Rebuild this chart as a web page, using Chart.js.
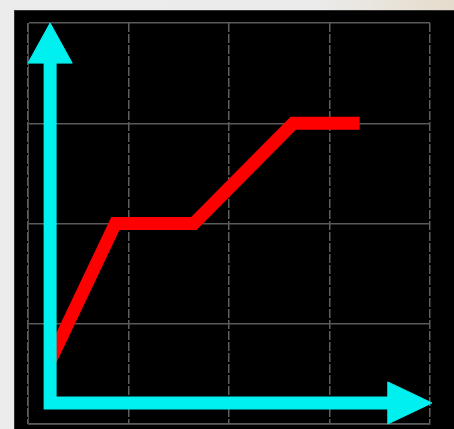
<!DOCTYPE html>
<html>
<head>
<meta charset="utf-8">
<script src="https://cdn.jsdelivr.net/npm/chart.js@4.4.1/dist/chart.umd.min.js"></script>
<style>
  html, body { margin: 0; padding: 0; width: 454px; height: 429px; overflow: hidden; }
  body { background: linear-gradient(100deg, #ececec 0%, #ebebeb 60%, #e6dccd 85%, #ede9e2 100%); position: relative; }
  #box { position: absolute; left: 14px; top: 10px; width: 440px; height: 419px; background: #000; border-top: 1px solid #333; border-left: 1px solid #333; box-sizing: border-box; }
  #c { display: block; }
</style>
</head>
<body>
<div id="box"><canvas id="c" width="439" height="418"></canvas></div>
<script>
// Red series (x, y in grid units)
const lineX = [0.22, 0.87, 1.65, 2.64, 3.30];
const lineY = [0.63, 2.0, 2.0, 3.0, 3.0];
// Cyan axes (L shape) and arrow heads, in grid units
const axisX = [0.22, 0.22, 3.60];
const axisY = [3.62, 0.21, 0.21];
const upHeadX = [0.0, 0.22, 0.44, 0.0];
const upHeadY = [3.60, 4.0, 3.60, 3.60];
const rightHeadX = [3.58, 4.02, 3.58, 3.58];
const rightHeadY = [0.42, 0.21, 0.0, 0.42];
const gridTicks = [0, 1, 2, 3, 4];

const toPts = (xs, ys) => xs.map((x, i) => ({ x: x, y: ys[i] }));

new Chart(document.getElementById('c'), {
  type: 'line',
  data: {
    datasets: [
      { data: toPts(lineX, lineY), borderColor: '#ff0000', borderWidth: 13, pointRadius: 0,
        borderJoinStyle: 'miter', borderCapStyle: 'butt', tension: 0, clip: false, order: 2 },
      { data: toPts(axisX, axisY), borderColor: '#00f0f0', borderWidth: 13, pointRadius: 0,
        borderJoinStyle: 'miter', borderCapStyle: 'butt', tension: 0, clip: false, order: 1 },
      { data: toPts(upHeadX, upHeadY), borderColor: '#00f0f0', backgroundColor: '#00f0f0', borderWidth: 1,
        pointRadius: 0, fill: 'shape', tension: 0, clip: false, order: 1 },
      { data: toPts(rightHeadX, rightHeadY), borderColor: '#00f0f0', backgroundColor: '#00f0f0', borderWidth: 1,
        pointRadius: 0, fill: 'shape', tension: 0, clip: false, order: 1 }
    ]
  },
  options: {
    responsive: false,
    animation: false,
    layout: { padding: { left: 13, top: 12, right: 24, bottom: 5 } },
    plugins: { legend: { display: false }, tooltip: { enabled: false } },
    scales: {
      x: {
        type: 'linear', min: 0, max: 4,
        afterBuildTicks: (s) => { s.ticks = gridTicks.map(v => ({ value: v })); },
        ticks: { display: false },
        grid: { color: '#5e5e5e', lineWidth: 1.5, drawTicks: false },
        border: { display: true, color: '#4a4a4a', dash: [9, 2] }
      },
      y: {
        type: 'linear', min: 0, max: 4,
        afterBuildTicks: (s) => { s.ticks = gridTicks.map(v => ({ value: v })); },
        ticks: { display: false },
        grid: { color: '#5a5a5a', lineWidth: 1.5, drawTicks: false },
        border: { display: true, color: '#4a4a4a' }
      }
    }
  }
});
</script>
</body>
</html>
